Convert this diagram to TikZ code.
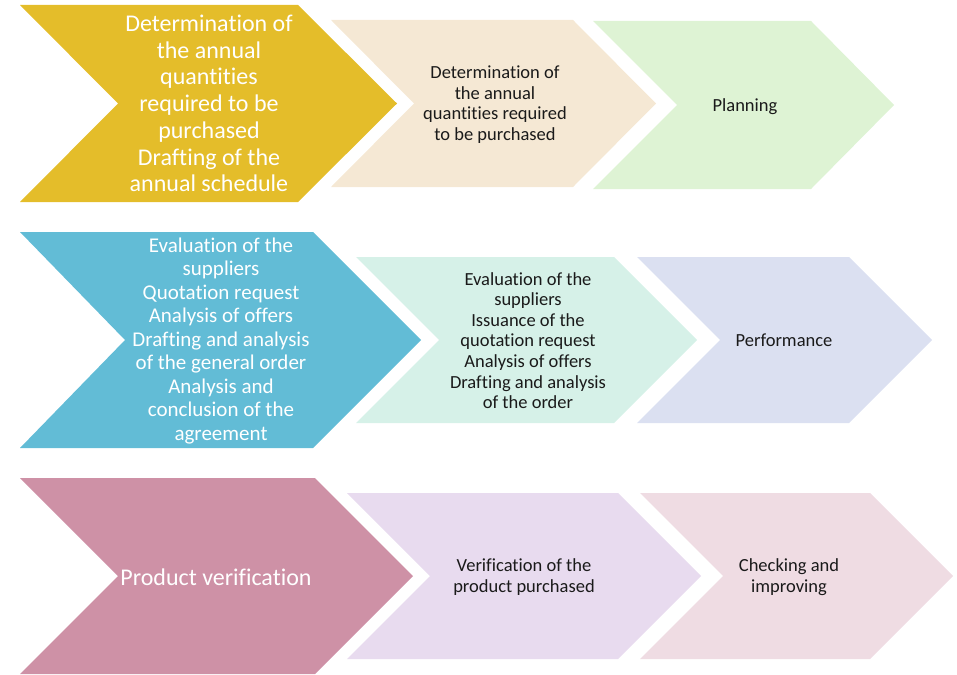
\documentclass[tikz,border=0pt]{standalone}
\usepackage{fontspec}
\setmainfont{Carlito}[Ligatures=NoCommon]
\definecolor{cgold}{HTML}{E4BD2A}
\definecolor{cbeige}{HTML}{F5E8D4}
\definecolor{cgreen}{HTML}{DEF3D4}
\definecolor{cblue}{HTML}{62BCD6}
\definecolor{cmint}{HTML}{D6F1E8}
\definecolor{clav}{HTML}{DBE0F1}
\definecolor{cpink}{HTML}{CE91A6}
\definecolor{cpurple}{HTML}{E8DBEF}
\definecolor{cpinkl}{HTML}{EFDCE3}
\definecolor{ctext}{HTML}{1A1A1A}
\tikzset{
  bigtxt/.style={text=white, align=center, inner sep=0pt, font=\fontsize{24}{26.7}\selectfont},
  midtxt/.style={text=white, align=center, inner sep=0pt, font=\fontsize{21}{23.5}\selectfont},
  smalltxt/.style={text=ctext, align=center, inner sep=0pt, font=\fontsize{18.5}{20.6}\selectfont},
}
\begin{document}
\begin{tikzpicture}[x=1pt,y=-1pt]
\useasboundingbox (0,0) rectangle (957,674);
% row 1
\fill[cgold] (20,5) -- (298,5) -- (397,103.5) -- (298,202) -- (20,202) -- (118,103.5) -- cycle;
\fill[cbeige] (331,20) -- (573,20) -- (656,103.5) -- (573,187) -- (331,187) -- (414,103.5) -- cycle;
\fill[cgreen] (593,21) -- (811,21) -- (894,105) -- (811,189) -- (593,189) -- (677,105) -- cycle;
\node[bigtxt] (a1) at (209,103.5) {Determination of\\the annual\\quantities\\required to be\\purchased\\Drafting of the\\annual schedule};
\node[smalltxt] (a2) at (495,104.5) {Determination of\\the annual\\quantities required\\to be purchased};
\node[smalltxt] (a3) at (745,107) {Planning};
% row 2
\fill[cblue] (20,232) -- (313,232) -- (421,340) -- (313,448) -- (20,448) -- (125,340) -- cycle;
\fill[cmint] (356,257) -- (614,257) -- (697,340) -- (614,423) -- (356,423) -- (439,340) -- cycle;
\fill[clav] (637,257) -- (849,257) -- (932,340) -- (849,423) -- (637,423) -- (720,340) -- cycle;
\node[midtxt] (b1) at (221,341) {Evaluation of the\\suppliers\\Quotation request\\Analysis of offers\\Drafting and analysis\\of the general order\\Analysis and\\conclusion of the\\agreement};
\node[smalltxt] (b2) at (528,340.5) {Evaluation of the\\suppliers\\Issuance of the\\quotation request\\Analysis of offers\\Drafting and analysis\\of the order};
\node[smalltxt] (b3) at (784,340.5) {Performance};
% row 3
\fill[cpink] (20,478) -- (315,478) -- (413,576) -- (315,674) -- (20,674) -- (118,576) -- cycle;
\fill[cpurple] (347,493) -- (618,493) -- (701,576) -- (618,659) -- (347,659) -- (430,576) -- cycle;
\fill[cpinkl] (640,493) -- (870,493) -- (953,576) -- (870,659) -- (640,659) -- (723,576) -- cycle;
\node[bigtxt] (c1) at (216,577) {Product verification};
\node[smalltxt] (c2) at (524,577) {Verification of the\\product purchased};
\node[smalltxt] (c3) at (789,577) {Checking and\\improving};
\end{tikzpicture}
\end{document}
